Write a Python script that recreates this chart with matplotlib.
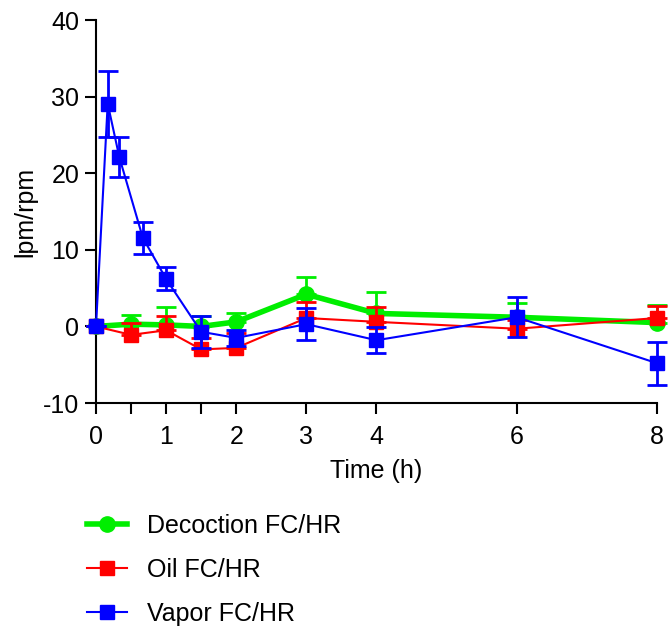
import matplotlib
matplotlib.use("Agg")
import matplotlib.pyplot as plt
from matplotlib.lines import Line2D

plt.rcParams['font.family'] = ['Liberation Sans', 'DejaVu Sans']
plt.rcParams['axes.unicode_minus'] = False

# time points (h)
t_short = [0, 0.5, 1, 1.5, 2, 3, 4, 6, 8]
t_vapor = [0, 0.167, 0.333, 0.667, 1, 1.5, 2, 3, 4, 6, 8]

# decoction and oil: error bars drawn upward only (as in the original)
decoction = [0, 0.3, 0.2, 0.0, 0.6, 4.2, 1.7, 1.2, 0.5]
decoction_err = [0, 1.2, 2.4, 1.4, 1.2, 2.3, 2.8, 1.9, 2.3]

oil = [0, -1.1, -0.5, -3.0, -2.8, 1.1, 0.6, -0.3, 1.1]
oil_err = [0, 1.5, 1.8, 1.5, 1.9, 2.1, 1.9, 1.2, 1.6]

vapor = [0, 29.1, 22.1, 11.6, 6.2, -0.7, -1.5, 0.3, -1.8, 1.2, -4.8]
vapor_err = [0, 4.3, 2.6, 2.1, 1.5, 2.1, 1.0, 2.1, 1.7, 2.6, 2.8]

green, red, blue = '#00ee00', '#ff0000', '#0000ff'
fs = 18

fig = plt.figure(figsize=(6.68, 6.3), dpi=100)
ax = fig.add_axes([0.1437, 0.3603, 0.8398, 0.6077])

err_kw = dict(capsize=7, elinewidth=2, capthick=2, clip_on=False)
ax.errorbar(t_short, decoction, yerr=[[0] * len(decoction), decoction_err],
            color=green, lw=4, marker='o', ms=11, zorder=3, **err_kw)
ax.errorbar(t_short, oil, yerr=[[0] * len(oil), oil_err],
            color=red, lw=1.5, marker='s', ms=10, zorder=4, **err_kw)
ax.errorbar(t_vapor, vapor, yerr=vapor_err,
            color=blue, lw=1.5, marker='s', ms=10, zorder=5, **err_kw)

ax.set_xlim(0, 8)
ax.set_ylim(-10, 40)
ax.set_xticks([0, 0.5, 1, 1.5, 2, 3, 4, 6, 8])
ax.set_xticklabels(['0', '', '1', '', '2', '3', '4', '6', '8'])
ax.set_yticks([-10, 0, 10, 20, 30, 40])

for s in ['top', 'right']:
    ax.spines[s].set_visible(False)
for s in ['left', 'bottom']:
    ax.spines[s].set_linewidth(1.5)
ax.tick_params(direction='out', length=8, width=1.5, labelsize=fs)
ax.tick_params(axis='x', pad=8)
ax.tick_params(axis='y', pad=4)

ax.set_xlabel('Time (h)', fontsize=fs, labelpad=7)
ax.set_ylabel('lpm/rpm', fontsize=fs, labelpad=4)

handles = [
    Line2D([], [], color=green, lw=4, marker='o', ms=11),
    Line2D([], [], color=red, lw=1.5, marker='s', ms=10),
    Line2D([], [], color=blue, lw=1.5, marker='s', ms=10),
]
labels = ['Decoction FC/HR', 'Oil FC/HR', 'Vapor FC/HR']
fig.legend(handles, labels, loc='upper left', bbox_to_anchor=(0.096, 0.22),
           frameon=False, fontsize=fs, handlelength=1.6, handletextpad=0.8,
           labelspacing=0.8)

fig.savefig('out.png', dpi=100)
